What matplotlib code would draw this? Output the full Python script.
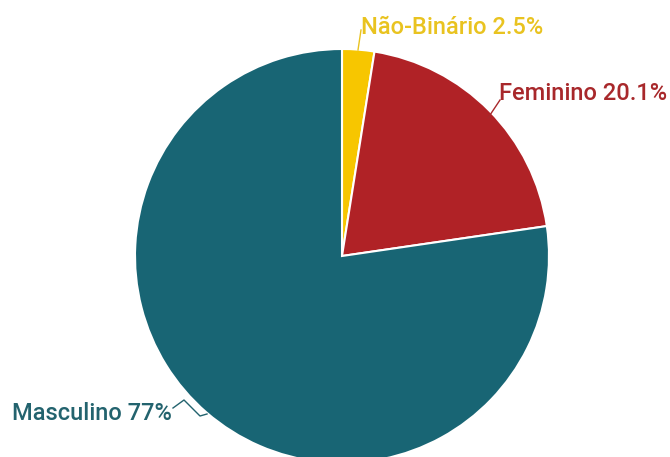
import matplotlib.pyplot as plt

labels = ['Não-Binário', 'Feminino', 'Masculino']
values = [2.5, 20.1, 77]
pct_text = ['2.5%', '20.1%', '77%']
colors = ['#f7c600', '#b02226', '#186574']
text_colors = ['#e9c320', '#a8282b', '#23636e']

fig = plt.figure(figsize=(6.7, 4.57), dpi=100)
ax = fig.add_axes([0, 0, 1, 1])

# pixel coords from the top-left, flipped for y
cx, cy, r = 342, 457 - 256, 207

ax.pie(values, colors=colors, startangle=90, counterclock=False,
       center=(cx, cy), radius=r, frame=True,
       wedgeprops=dict(edgecolor='white', linewidth=1.5))
ax.set_xlim(0, 670)
ax.set_ylim(0, 457)
ax.set_aspect('equal')
ax.axis('off')

font = dict(family=['Roboto', 'DejaVu Sans'], fontsize=17, fontweight='medium')

# leader lines
ax.plot([358, 361], [457 - 50, 457 - 30], color=text_colors[0], lw=1)
ax.plot([488, 500], [457 - 118, 457 - 100], color=text_colors[1], lw=1)
ax.plot([173, 184, 200, 207], [457 - 408, 457 - 400, 457 - 416, 457 - 414],
        color=text_colors[2], lw=1)

ax.text(361, 457 - 27, labels[0] + ' ' + pct_text[0], color=text_colors[0],
        ha='left', va='center', **font)
ax.text(499, 457 - 94, labels[1] + ' ' + pct_text[1], color=text_colors[1],
        ha='left', va='center', **font)
ax.text(172, 457 - 414, labels[2] + ' ' + pct_text[2], color=text_colors[2],
        ha='right', va='center', **font)

fig.savefig('out.png', dpi=100)
